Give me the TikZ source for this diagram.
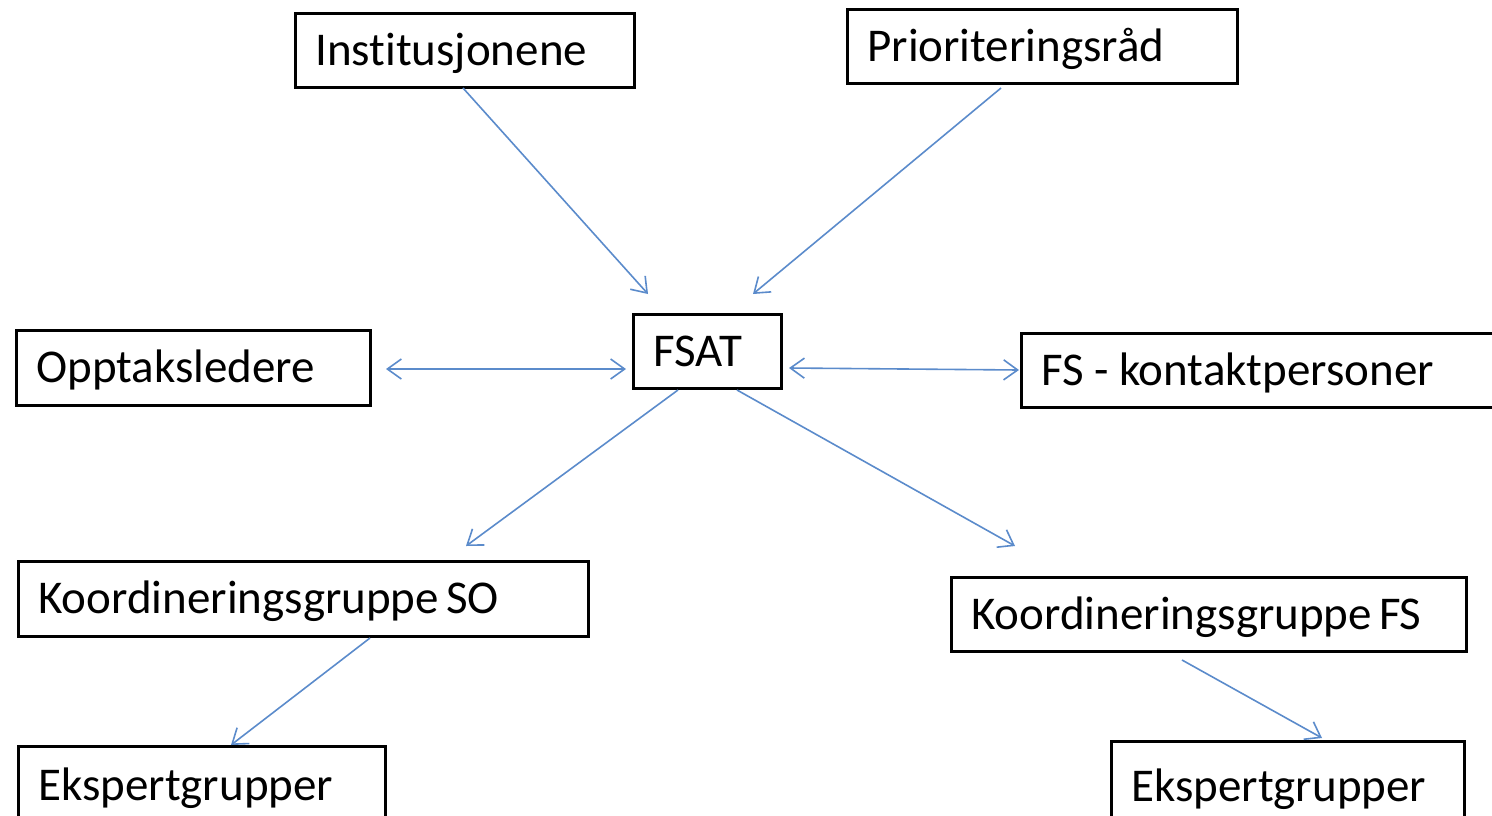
\documentclass[tikz,border=0pt]{standalone}
\usepackage{fontspec}
\setmainfont{Carlito}[Ligatures={NoCommon}]
\usetikzlibrary{arrows.meta}
\definecolor{arrblue}{HTML}{5B8BCB}
\newcommand{\myboxfont}{\fontsize{47}{56}\selectfont}
\newcommand{\wgap}{\hspace{7pt}}
\newcommand{\dgap}{\hspace{10.5pt}}
\tikzset{
  box/.style={draw=black, line width=2.6pt, inner xsep=20pt, inner ysep=0pt,
    text height=30pt, text depth=0pt, align=left, anchor=north west,
    font=\myboxfont},
  arr/.style={draw=arrblue, line width=1.6pt, -{Straight Barb[length=14pt,width=20pt,line width=1.6pt]}},
  darr/.style={draw=arrblue, line width=1.6pt, {Straight Barb[length=14pt,width=20pt,line width=1.6pt]}-{Straight Barb[length=14pt,width=20pt,line width=1.6pt]}}
}
\begin{document}
\begin{tikzpicture}[x=1pt,y=-1pt]
\useasboundingbox (0,0) rectangle (1492,815);
\clip (0,0) rectangle (1492,815);
\node[box, text width=299pt, minimum height=74pt] (inst) at (294,12) {Institusjonene};
\node[box, text width=350pt, minimum height=74pt] (prio) at (846,8) {Prioriteringsråd};
\node[box, text width=314pt, minimum height=75pt] (opp) at (15,329) {Opptaksledere};
\node[box, text width=108pt, minimum height=74pt] (fsat) at (632,313) {FSAT};
\node[box, text width=480pt, minimum height=74pt] (fsk) at (1020,332) {FS\dgap-\dgap kontaktpersoner};
\node[box, text width=530pt, minimum height=75pt] (kso) at (17,560) {Koordineringsgruppe\wgap SO};
\node[box, text width=475pt, minimum height=74pt] (ksf) at (950,576) {Koordineringsgruppe\wgap FS};
\node[box, text width=327pt, minimum height=78pt] (ekl) at (17,745) {Ekspertgrupper};
\node[box, text width=313pt, minimum height=90pt] (ekr) at (1110,740) {Ekspertgrupper};
\coordinate (c1a) at (463,88);   \coordinate (c1b) at (648,294);
\coordinate (c2a) at (1001,88);  \coordinate (c2b) at (753,294);
\coordinate (c3a) at (386,369);  \coordinate (c3b) at (626,369);
\coordinate (c4a) at (789,368);  \coordinate (c4b) at (1019,370);
\coordinate (c5a) at (678,390);  \coordinate (c5b) at (466,546);
\coordinate (c6a) at (737,390);  \coordinate (c6b) at (1015,546);
\coordinate (c7a) at (370,638);  \coordinate (c7b) at (231,745);
\coordinate (c8a) at (1182,660); \coordinate (c8b) at (1322,738);
\draw[arr] (c1a) -- (c1b);
\draw[arr] (c2a) -- (c2b);
\draw[darr] (c3a) -- (c3b);
\draw[darr] (c4a) -- (c4b);
\draw[arr] (c5a) -- (c5b);
\draw[arr] (c6a) -- (c6b);
\draw[arr] (c7a) -- (c7b);
\draw[arr] (c8a) -- (c8b);
\end{tikzpicture}
\end{document}
